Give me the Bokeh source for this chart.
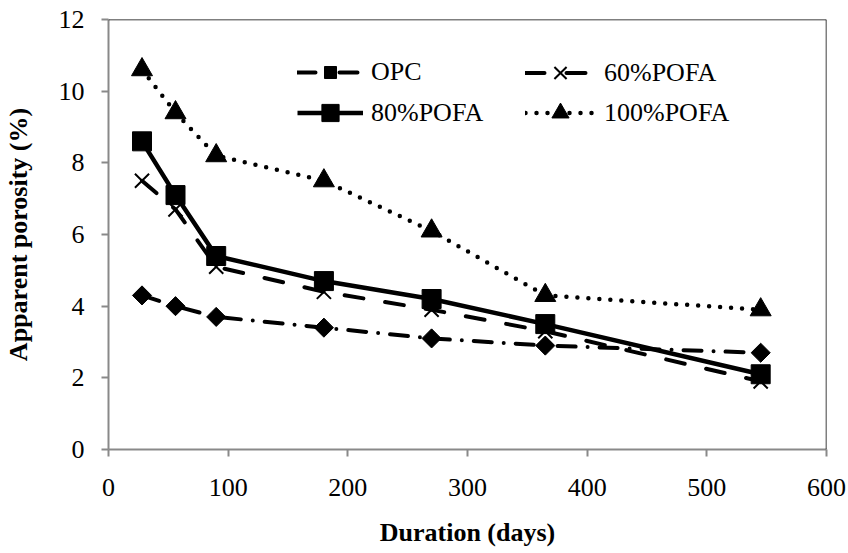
import math
from bokeh.plotting import figure
from bokeh.models import Range1d, Legend, LegendItem, Span, FixedTicker
from bokeh.embed import file_html
from bokeh.resources import INLINE

days = [28, 56, 90, 180, 270, 365, 545]
opc = [4.3, 4.0, 3.7, 3.4, 3.1, 2.9, 2.7]
pofa60 = [7.5, 6.7, 5.1, 4.4, 3.9, 3.3, 1.9]
pofa80 = [8.6, 7.1, 5.4, 4.7, 4.2, 3.5, 2.1]
pofa100 = [10.6, 9.4, 8.2, 7.5, 6.1, 4.3, 3.9]
labels = ["OPC", "60%POFA", "80%POFA", "100%POFA"]
x_ticks = [0, 100, 200, 300, 400, 500, 600]
y_ticks = [0, 2, 4, 6, 8, 10, 12]

FONT = "Liberation Serif"
GRAY = "#898989"

p = figure(width=848, height=553, output_backend="svg", toolbar_location=None,
           x_range=Range1d(0, 600), y_range=Range1d(0, 12),
           min_border_left=106, min_border_top=19, min_border_right=22, min_border_bottom=104)
p.grid.visible = False
p.outline_line_color = None
p.background_fill_color = "white"
p.border_fill_color = "white"

for ax in (p.xaxis[0], p.yaxis[0]):
    ax.axis_line_color = GRAY
    ax.axis_line_width = 2
    ax.major_tick_line_color = GRAY
    ax.major_tick_line_width = 2
    ax.major_tick_out = 7
    ax.major_tick_in = 0
    ax.minor_tick_line_color = None
    ax.major_label_text_font = FONT
    ax.major_label_text_font_size = "26px"
    ax.major_label_text_color = "black"
    ax.axis_label_text_font = FONT
    ax.axis_label_text_font_size = "26px"
    ax.axis_label_text_font_style = "bold"
    ax.axis_label_text_color = "black"

p.xaxis.ticker = FixedTicker(ticks=x_ticks)
p.yaxis.ticker = FixedTicker(ticks=y_ticks)
p.xaxis.axis_label = "Duration (days)"
p.yaxis.axis_label = "Apparent porosity (%)"
p.xaxis.major_label_standoff = 22
p.yaxis.major_label_standoff = 17
p.xaxis.axis_label_standoff = 19
p.yaxis.axis_label_standoff = 23

p.add_layout(Span(location=12, dimension="width", line_color="black", line_width=1.5))
p.add_layout(Span(location=600, dimension="height", line_color="black", line_width=1.5))

# OPC
l_opc = p.line(days, opc, line_color="black", line_width=4, line_dash="18 12 0 12", line_cap="round")
s_opc = p.scatter(days, opc, marker="square", angle=math.pi / 4, size=13.5, color="black")
# 60% POFA
l_60 = p.line(days, pofa60, line_color="black", line_width=4, line_dash="19 22", line_cap="round")
s_60 = p.scatter(days, pofa60, marker="x", size=20, line_color="black", line_width=2)
# 80% POFA
l_80 = p.line(days, pofa80, line_color="black", line_width=4.5)
s_80 = p.scatter(days, pofa80, marker="square", size=19, color="black")
# 100% POFA
l_100 = p.line(days, pofa100, line_color="black", line_width=4.5, line_dash="0 11", line_cap="round")
s_100 = p.scatter(days, pofa100, marker="triangle", size=21, color="black")

def make_legend(label, rends, loc, gw, gh, standoff):
    lg = Legend(items=[LegendItem(label=label, renderers=rends)], location=loc,
                glyph_width=gw, glyph_height=gh, label_standoff=standoff,
                padding=0, margin=0, spacing=0,
                border_line_color=None, background_fill_alpha=0,
                label_text_font=FONT, label_text_font_size="26px", label_text_color="black",
                label_height=gh)
    p.add_layout(lg, "center")

make_legend(labels[0], [l_opc, s_opc], (189, 362), 66, 30, 8)
make_legend(labels[1], [l_60, s_60], (417, 355), 70, 43, 9)
make_legend(labels[2], [l_80, s_80], (189, 315), 66, 43, 8)
make_legend(labels[3], [l_100, s_100], (417, 315), 70, 43, 9)

open("out.html", "w").write(file_html(p, INLINE))
